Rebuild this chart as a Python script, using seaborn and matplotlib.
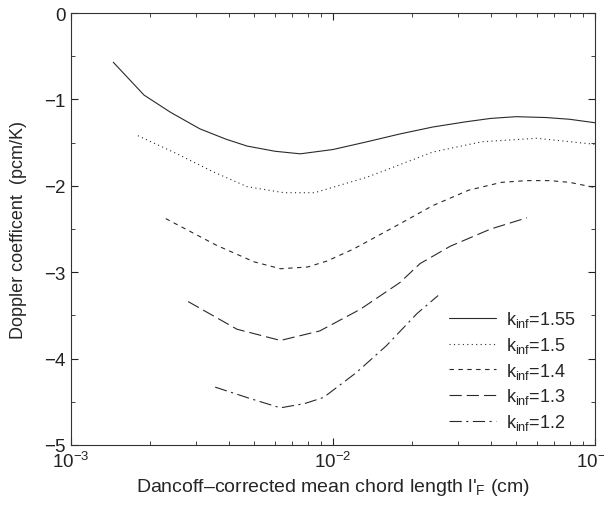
import numpy as np
import pandas as pd
import matplotlib
matplotlib.use("Agg")
import matplotlib.pyplot as plt
import seaborn as sns
from matplotlib.ticker import MultipleLocator, LogLocator

# ---- data ----
x_155 = [1.45e-3, 1.9e-3, 2.4e-3, 3.1e-3, 3.9e-3, 4.7e-3, 6.0e-3, 7.5e-3, 1.0e-2,
         1.35e-2, 1.8e-2, 2.4e-2, 3.2e-2, 4.0e-2, 5.0e-2, 6.5e-2, 8.0e-2, 1.0e-1]
y_155 = [-0.57, -0.95, -1.15, -1.34, -1.46, -1.54, -1.60, -1.63, -1.58,
         -1.49, -1.40, -1.32, -1.26, -1.22, -1.20, -1.21, -1.23, -1.27]

x_150 = [1.8e-3, 2.5e-3, 3.5e-3, 4.7e-3, 6.5e-3, 8.5e-3, 1.35e-2, 2.4e-2, 3.7e-2,
         6.0e-2, 1.0e-1]
y_150 = [-1.42, -1.62, -1.84, -2.01, -2.08, -2.08, -1.90, -1.61, -1.49,
         -1.45, -1.52]

x_140 = [2.3e-3, 3.6e-3, 5.0e-3, 6.3e-3, 8.0e-3, 9.5e-3, 1.2e-2, 1.4e-2, 1.8e-2,
         2.4e-2, 3.3e-2, 4.4e-2, 5.5e-2, 6.7e-2, 8.0e-2, 1.0e-1]
y_140 = [-2.38, -2.69, -2.88, -2.96, -2.94, -2.87, -2.73, -2.62, -2.44,
         -2.23, -2.05, -1.96, -1.94, -1.94, -1.96, -2.02]

x_130 = [2.8e-3, 4.3e-3, 6.3e-3, 8.9e-3, 1.27e-2, 1.8e-2, 2.15e-2, 2.8e-2, 4.0e-2, 5.5e-2]
y_130 = [-3.34, -3.66, -3.79, -3.68, -3.43, -3.12, -2.90, -2.70, -2.50, -2.37]

x_120 = [3.55e-3, 4.8e-3, 6.3e-3, 7.8e-3, 9.2e-3, 1.23e-2, 1.6e-2, 2.09e-2, 2.52e-2]
y_120 = [-4.33, -4.46, -4.57, -4.52, -4.45, -4.16, -3.85, -3.48, -3.27]

labels = ["k$_\\mathregular{inf}$=1.55", "k$_\\mathregular{inf}$=1.5",
          "k$_\\mathregular{inf}$=1.4", "k$_\\mathregular{inf}$=1.3",
          "k$_\\mathregular{inf}$=1.2"]
y_ticks = [0, -1, -2, -3, -4, -5]

series = [(x_155, y_155), (x_150, y_150), (x_140, y_140), (x_130, y_130), (x_120, y_120)]
frames = []
for lab, (xs, ys) in zip(labels, series):
    frames.append(pd.DataFrame({"x": xs, "y": ys, "k": lab}))
df = pd.concat(frames, ignore_index=True)

# ---- style ----
sns.set_style("ticks")
plt.rcParams["font.family"] = ["Liberation Sans", "DejaVu Sans"]
plt.rcParams["mathtext.fontset"] = "custom"
plt.rcParams["mathtext.rm"] = "Liberation Sans"
plt.rcParams["mathtext.it"] = "Liberation Sans:italic"
plt.rcParams["mathtext.default"] = "regular"

fig = plt.figure(figsize=(6.04, 5.06), dpi=100)
ax = fig.add_axes([71 / 604, 1 - 446 / 506, (595 - 71) / 604, (446 - 14) / 506])

dashes = {
    labels[0]: "",
    labels[1]: (1, 3),
    labels[2]: (4, 4),
    labels[3]: (11, 4.5),
    labels[4]: (11, 4, 2, 4),
}
palette = {lab: "#2a2a2a" for lab in labels}

sns.lineplot(data=df, x="x", y="y", hue="k", style="k", dashes=dashes,
             palette=palette, hue_order=labels, style_order=labels,
             estimator=None, sort=False, linewidth=0.8, ax=ax)

ax.set_xscale("log")
ax.set_xlim(1e-3, 1e-1)
ax.set_ylim(-5, 0)
ax.set_yticks(y_ticks)
ax.yaxis.set_minor_locator(MultipleLocator(0.5))
ax.xaxis.set_minor_locator(LogLocator(base=10, subs=np.arange(2, 10)))

ax.tick_params(axis="both", which="both", direction="in", top=True, right=True,
               labelsize=13.5, colors="#222222", pad=4)
ax.tick_params(which="major", length=5, width=0.8)
ax.tick_params(which="minor", length=3, width=0.6)
for s in ax.spines.values():
    s.set_linewidth(0.8)
    s.set_color("#333333")

ax.set_xlabel("Dancoff\u2013corrected mean chord length l'$_\\mathregular{F}$ (cm)",
              fontsize=14, labelpad=4)
ax.set_ylabel("Doppler coefficent  (pcm/K)", fontsize=13, labelpad=12)

leg = ax.legend(loc="lower right", bbox_to_anchor=(0.995, -0.008), frameon=False,
                fontsize=13, handlelength=2.6, handletextpad=0.6,
                labelspacing=0.32)

fig.savefig("out.png", dpi=100)
